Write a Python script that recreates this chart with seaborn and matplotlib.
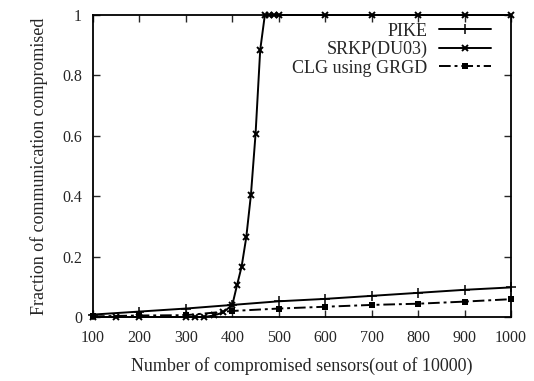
import matplotlib
matplotlib.use("Agg")
import matplotlib.pyplot as plt
import seaborn as sns
import pandas as pd

pike_x = [100, 200, 300, 400, 500, 600, 700, 800, 900, 1000]
pike_y = [0.008, 0.018, 0.028, 0.040, 0.052, 0.060, 0.070, 0.080, 0.090, 0.098]

srkp_x = [100, 150, 200, 300, 320, 340, 360, 380, 400, 410, 420, 430, 440, 450, 460, 470,
          480, 490, 500, 600, 700, 800, 900, 1000]
srkp_y = [0.0, 0.0, 0.0, 0.0, 0.0, 0.0, 0.005, 0.015, 0.04, 0.105, 0.167, 0.264, 0.404, 0.606,
          0.884, 1.0, 1.0, 1.0, 1.0, 1.0, 1.0, 1.0, 1.0, 1.0]

clg_x = [100, 200, 300, 400, 500, 600, 700, 800, 900, 1000]
clg_y = [0.002, 0.005, 0.006, 0.020, 0.028, 0.034, 0.040, 0.044, 0.051, 0.059]

labels = ["PIKE", "SRKP(DU03)", "CLG using GRGD"]
xticks = [100, 200, 300, 400, 500, 600, 700, 800, 900, 1000]
yticks = [0, 0.2, 0.4, 0.6, 0.8, 1]

sns.set_style("ticks")
plt.rcParams["font.family"] = ["Liberation Serif", "DejaVu Serif"]

fig = plt.figure(figsize=(5.34, 3.81), dpi=100)
ax = fig.add_axes([93 / 534, 1 - 317 / 381, (511 - 93) / 534, (317 - 15) / 381])

df_p = pd.DataFrame({"x": pike_x, "y": pike_y})
df_s = pd.DataFrame({"x": srkp_x, "y": srkp_y})
df_c = pd.DataFrame({"x": clg_x, "y": clg_y})

common = dict(ax=ax, color="black", lw=1.4, markeredgecolor="black", markerfacecolor="black",
              clip_on=False)
sns.lineplot(data=df_p, x="x", y="y", marker="+", markersize=7, markeredgewidth=1.1,
             label=labels[0], **common)
sns.lineplot(data=df_s, x="x", y="y", marker="x", markersize=4.5, markeredgewidth=1.4,
             label=labels[1], **common)
sns.lineplot(data=df_c, x="x", y="y", marker="s", markersize=5, markeredgewidth=0,
             label=labels[2], **common)
ax.lines[2].set_dashes([6, 2, 1.5, 2])

ax.set_xlim(100, 1000)
ax.set_ylim(0, 1)
ax.set_xticks(xticks)
ax.set_xticklabels([str(v) for v in xticks])
ax.set_yticks(yticks)
ax.set_yticklabels(["0", "0.2", "0.4", "0.6", "0.8", "1"])
ax.tick_params(direction="in", top=True, right=True, length=5, width=1.0, labelsize=11.5)
ax.tick_params(axis="x", pad=9)
ax.tick_params(axis="y", pad=8)
for s in ax.spines.values():
    s.set_linewidth(1.3)
    s.set_color("black")

ax.set_xlabel("Number of compromised sensors(out of 10000)", fontsize=13, labelpad=8)
ax.set_ylabel("Fraction of communication compromised", fontsize=13, labelpad=10)

leg = ax.legend(loc="upper right", bbox_to_anchor=(0.952, 0.975), frameon=False, markerfirst=False,
                fontsize=13, handlelength=2.9, labelspacing=0.08, borderaxespad=0.0,
                borderpad=0.0, handletextpad=0.6)

fig.savefig("out.png", dpi=100)
